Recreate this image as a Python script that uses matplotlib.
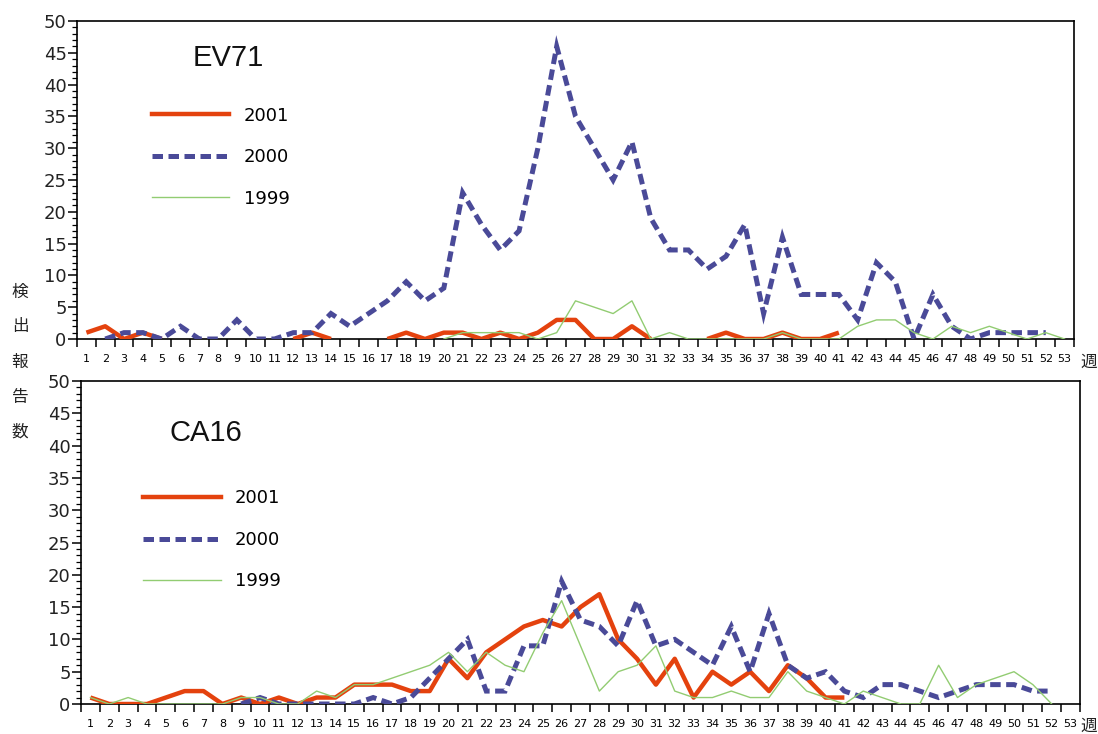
import matplotlib
matplotlib.use("Agg")
import matplotlib.pyplot as plt
import numpy as np
from matplotlib.lines import Line2D
from matplotlib.ticker import FixedLocator, MultipleLocator, NullFormatter

nan = np.nan

# weeks 1..53
weeks = np.arange(1, 54)
week_labels = [str(w) for w in weeks]

series_labels = ["2001", "2000", "1999"]

# EV71 reports per week (nan = not plotted)
ev71_2001 = [1, 2, 0, 1, 0, nan, nan, nan, nan, nan, nan, 0, 1, 0, nan, nan,
             0, 1, 0, 1, 1, 0, 1, 0, 1, 3, 3, 0, 0, 2, 0, nan, nan,
             0, 1, 0, 0, 1, 0, 0, 1,
             nan, nan, nan, nan, nan, nan, nan, nan, nan, nan, nan, nan]
ev71_2000 = [nan, 0, 1, 1, 0, 2, 0, 0, 3, 0, 0, 1, 1, 4, 2, 4, 6, 9, 6, 8,
             23, 18, 14, 17, 30, 46, 35, 30, 25, 31, 19, 14, 14, 11, 13, 18,
             4, 16, 7, 7, 7, 3, 12, 9, 0, 7, 2, 0, 1, 1, 1, 1, nan]
ev71_1999 = [nan] * 19 + [0, 1, 1, 1, 1, 0, 1, 6, 5, 4, 6, 0, 1, 0, 0, 0,
                          0, 0, 1, 0, 0, 0, 2, 3, 3, 1, 0, 2, 1, 2, 1, 0, 1, 0]

# CA16 reports per week
ca16_2001 = [1, 0, 0, 0, 1, 2, 2, 0, 1, 0, 1, 0, 1, 1, 3, 3, 3, 2, 2, 7,
             4, 8, 10, 12, 13, 12, 15, 17, 10, 7, 3, 7, 1, 5, 3, 5, 2, 6, 4,
             1, 1] + [nan] * 12
ca16_2000 = [nan] * 8 + [0, 1, 0, 0, 0, 0, 0, 1, 0, 1, 4, 7, 10, 2, 2, 9, 9,
                         19, 13, 12, 9, 16, 9, 10, 8, 6, 12, 5, 14, 6, 4, 5,
                         2, 1, 3, 3, 2, 1, 2, 3, 3, 3, 2, 2, nan]
ca16_1999 = [1, 0, 1, 0, 0, 0, 0, 0, 1, 1, 0, 0, 2, 1, 3, 3, 4, 5, 6, 8,
             5, 8, 6, 5, 11, 16, 9, 2, 5, 6, 9, 2, 1, 1, 2, 1, 1, 5, 2, 1,
             0, 2, 1, 0, 0, 6, 1, 3, 4, 5, 3, 0, nan]

RED = "#E4420E"
BLUE = "#4A4A98"
GREEN = "#92CC72"

W, H = 1098, 734
fig = plt.figure(figsize=(W / 100, H / 100), dpi=100)
fig.patch.set_facecolor("white")


def draw_panel(ax, title, s2001, s2000, s1999, title_xy, legend_xy):
    ax.plot(weeks, s2001, color=RED, lw=3.2, solid_joinstyle="round",
            solid_capstyle="butt", zorder=3)
    ax.plot(weeks, s2000, color=BLUE, lw=3.6, dashes=(2.1, 1.1),
            dash_capstyle="butt", dash_joinstyle="miter", zorder=4)
    ax.plot(weeks, s1999, color=GREEN, lw=1.0, zorder=5)

    ax.set_xlim(0.5, 53.5)
    ax.set_ylim(0, 50)

    # x: ticks at week boundaries, labels centred on weeks
    ax.xaxis.set_major_locator(FixedLocator(np.arange(0.5, 54, 1.0)))
    ax.xaxis.set_major_formatter(NullFormatter())
    ax.xaxis.set_minor_locator(FixedLocator(weeks))
    ax.set_xticklabels(week_labels, minor=True)
    ax.tick_params(axis="x", which="major", direction="out", length=5.5,
                   width=1.1, color="black")
    ax.tick_params(axis="x", which="minor", length=0, pad=11, labelsize=8)

    ax.yaxis.set_major_locator(MultipleLocator(5))
    ax.yaxis.set_minor_locator(MultipleLocator(1))
    ax.tick_params(axis="y", which="major", direction="out", length=6.5,
                   width=1.1, labelsize=13, pad=1, labelcolor="#222222")
    ax.tick_params(axis="y", which="minor", direction="out", length=3.5,
                   width=0.9)

    for sp in ax.spines.values():
        sp.set_linewidth(1.2)
        sp.set_color("black")

    ax.text(title_xy[0], title_xy[1], title, transform=ax.transAxes,
            ha="left", va="center", fontsize=21, family="Liberation Sans",
            color="#111111")

    handles = [
        Line2D([], [], color=RED, lw=3.2),
        Line2D([], [], color=BLUE, lw=3.6, dashes=(2.1, 1.1),
               dash_capstyle="butt"),
        Line2D([], [], color=GREEN, lw=1.0),
    ]
    ax.legend(handles, series_labels, loc="center left",
              bbox_to_anchor=legend_xy, frameon=False, fontsize=13,
              handlelength=4.3, handletextpad=0.8, labelspacing=1.3,
              borderpad=0, borderaxespad=0)


# top panel: EV71
ax1 = fig.add_axes([77 / W, 1 - 339 / H, (1074 - 77) / W, (339 - 21) / H])
draw_panel(ax1, "EV71", ev71_2001, ev71_2000, ev71_1999,
           (0.116, 0.884), (0.075, 0.572))

# bottom panel: CA16
ax2 = fig.add_axes([81 / W, 1 - 704 / H, (1080 - 81) / W, (704 - 381) / H])
draw_panel(ax2, "CA16", ca16_2001, ca16_2000, ca16_1999,
           (0.089, 0.839), (0.062, 0.508))

# y label, stacked vertically between the panels
cjk = ["Noto Sans CJK JP", "DejaVu Sans"]
for i, ch in enumerate("検出報告数"):
    fig.text(20 / W, 1 - (292 + i * 35) / H, ch, ha="center", va="center",
             fontsize=12, family=cjk, color="#222222")

# x unit at the right end of each axis
fig.text(1097 / W, 1 - 362 / H, "週", ha="right", va="center",
         fontsize=12, family=cjk, color="#222222")
fig.text(1097 / W, 1 - 726 / H, "週", ha="right", va="center",
         fontsize=12, family=cjk, color="#222222")

fig.savefig("out.png", dpi=100)
